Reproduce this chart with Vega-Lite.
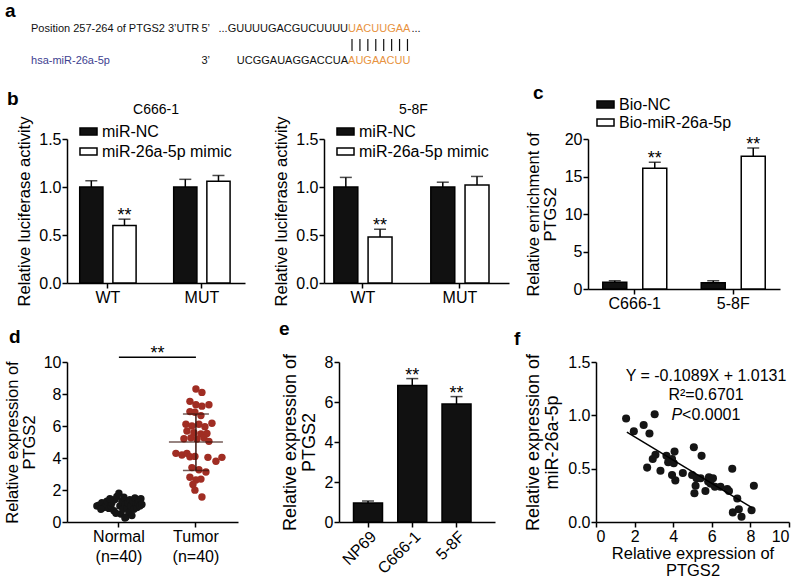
{
  "$schema": "https://vega.github.io/schema/vega-lite/v6.json",
  "background": "white",
  "padding": {"left": 4, "top": 2, "right": 2, "bottom": 0},
  "config": {
    "font": "Liberation Sans",
    "view": {"stroke": null},
    "axis": {"domainColor": "#000", "domainWidth": 1.5, "tickColor": "#000", "tickWidth": 1.5, "tickSize": 5, "labelColor": "#000", "titleColor": "#000", "labelFont": "Liberation Sans", "titleFont": "Liberation Sans", "labelFontSize": 16, "titleFontSize": 16.5, "titleFontWeight": "normal", "grid": false, "labelPadding": 1, "titlePadding": 6, "titleLineHeight": 17, "labelOverlap": false},
    "axisX": {"labelAngle": 0},
    "legend": {"labelFont": "Liberation Sans", "labelFontSize": 16, "labelColor": "#000", "symbolStrokeColor": "#000", "symbolStrokeWidth": 1.5, "symbolType": "M-1,-0.4H1V0.4H-1Z", "symbolSize": 290, "rowPadding": 2, "padding": 0, "labelLimit": 300},
    "title": {"font": "Liberation Sans", "fontSize": 19, "fontWeight": "bold", "anchor": "start", "frame": "group", "color": "#000", "offset": 4}
  },
  "resolve": {"scale": {"fill": "independent", "color": "independent", "x": "independent", "y": "independent", "xOffset": "independent"}, "legend": {"fill": "independent", "color": "independent"}},
  "spacing": 9,
  "vconcat": [
    {
      "width": 366, "height": 46,
      "title": {"text": "a", "dx": -62, "offset": 2},
      "data": {"values": [
        {"row": "target", "col": -40, "part": "target-name", "text": "Position 257-264 of PTGS2 3’UTR"},
        {"row": "target", "col": -18.5, "part": "end", "text": "5’"},
        {"row": "target", "col": 0, "part": "prefix", "text": "...GUUUUGACGUCUUUU"},
        {"row": "target", "col": 0, "part": "seed", "text": "UACUUGAA"},
        {"row": "target", "col": 8, "part": "tail", "text": "..."},
        {"row": "mirna", "col": -40, "part": "mirna-name", "text": "hsa-miR-26a-5p"},
        {"row": "mirna", "col": -18.5, "part": "end", "text": "3’"},
        {"row": "mirna", "col": 0, "part": "prefix", "text": "UCGGAUAGGACCUA"},
        {"row": "mirna", "col": 0, "part": "seed", "text": "AUGAACUU"},
        {"row": "pairing", "col": 0.5, "part": "pair", "text": "|"},
        {"row": "pairing", "col": 1.5, "part": "pair", "text": "|"},
        {"row": "pairing", "col": 2.5, "part": "pair", "text": "|"},
        {"row": "pairing", "col": 3.5, "part": "pair", "text": "|"},
        {"row": "pairing", "col": 4.5, "part": "pair", "text": "|"},
        {"row": "pairing", "col": 5.5, "part": "pair", "text": "|"},
        {"row": "pairing", "col": 6.5, "part": "pair", "text": "|"},
        {"row": "pairing", "col": 7.5, "part": "pair", "text": "|"}
      ]},
      "encoding": {
        "x": {"field": "col", "type": "quantitative", "scale": {"domain": [-35.46, 10.72], "nice": false, "zero": false}, "axis": null},
        "y": {"field": "row", "type": "nominal", "scale": {"type": "point", "domain": ["target", "pairing", "mirna"], "padding": 0.4375, "align": 0}, "axis": null}
      },
      "layer": [
        {"transform": [{"filter": "datum.part == 'target-name' || datum.part == 'end' || datum.part == 'tail'"}], "mark": {"type": "text", "align": "left", "fontSize": 11, "color": "#111111"}, "encoding": {"text": {"field": "text"}}},
        {"transform": [{"filter": "datum.part == 'mirna-name'"}], "mark": {"type": "text", "align": "left", "fontSize": 11, "color": "#3d4190"}, "encoding": {"text": {"field": "text"}}},
        {"transform": [{"filter": "datum.part == 'seed'"}], "mark": {"type": "text", "align": "left", "fontSize": 11, "color": "#e8933f"}, "encoding": {"text": {"field": "text"}}},
        {"transform": [{"filter": "datum.part == 'prefix'"}], "mark": {"type": "text", "align": "right", "fontSize": 11, "color": "#111111"}, "encoding": {"text": {"field": "text"}}},
        {"transform": [{"filter": "datum.part == 'pair'"}], "mark": {"type": "tick", "size": 12, "thickness": 1.2, "color": "#111111", "opacity": 1}}
      ]
    },
    {
      "title": {"text": "b", "dx": -60, "offset": -25},
      "resolve": {"scale": {"fill": "independent", "color": "independent", "x": "independent", "y": "independent", "xOffset": "independent"}, "legend": {"fill": "independent"}},
      "bounds": "flush",
      "spacing": 79,
      "hconcat": [
        {
          "width": 178, "height": 144,
          "title": {"text": "C666-1", "anchor": "middle", "fontSize": 14, "fontWeight": "normal", "offset": -1},
          "data": {"values": [
            {"construct": "WT", "treatment": "miR-NC", "value": 1.0, "upper": 1.065, "sig": ""},
            {"construct": "WT", "treatment": "miR-26a-5p mimic", "value": 0.6, "upper": 0.665, "sig": "**"},
            {"construct": "MUT", "treatment": "miR-NC", "value": 1.0, "upper": 1.08, "sig": ""},
            {"construct": "MUT", "treatment": "miR-26a-5p mimic", "value": 1.06, "upper": 1.12, "sig": ""}
          ]},
          "encoding": {
            "x": {"field": "construct", "type": "nominal", "sort": ["WT", "MUT"], "scale": {"paddingInner": 0.4, "paddingOuter": 0.147, "align": 0.46}, "axis": {"title": null}},
            "xOffset": {"field": "treatment", "type": "nominal", "sort": ["miR-NC", "miR-26a-5p mimic"], "scale": {"paddingInner": 0.3, "paddingOuter": 0}}
          },
          "layer": [
            {"mark": {"type": "bar", "stroke": "#000", "strokeWidth": 1.5}, "encoding": {
              "y": {"field": "value", "type": "quantitative", "title": "Relative luciferase activity", "scale": {"domain": [0, 1.5], "nice": false}, "axis": {"values": [0, 0.5, 1, 1.5], "tickCount": 4, "format": ".1f"}},
              "fill": {"field": "treatment", "type": "nominal", "scale": {"domain": ["miR-NC", "miR-26a-5p mimic"], "range": ["#111111", "#ffffff"]}, "legend": {"title": null, "orient": "none", "legendX": 12, "legendY": -17}}}},
            {"mark": {"type": "rule", "strokeWidth": 1.5, "color": "#000"}, "encoding": {"y": {"field": "value", "type": "quantitative", "title": "Relative luciferase activity"}, "y2": {"field": "upper"}}},
            {"mark": {"type": "tick", "thickness": 1.5, "size": 12, "color": "#000"}, "encoding": {"y": {"field": "upper", "type": "quantitative", "title": "Relative luciferase activity"}}},
            {"transform": [{"filter": "datum.sig != ''"}], "mark": {"type": "text", "fontSize": 18, "baseline": "alphabetic", "dy": 2, "color": "#000"}, "encoding": {"y": {"field": "upper", "type": "quantitative", "title": "Relative luciferase activity"}, "text": {"field": "sig"}}}
          ]
        },
        {
          "width": 185, "height": 144,
          "title": {"text": "5-8F", "anchor": "middle", "fontSize": 14, "fontWeight": "normal", "offset": -1, "dx": -3},
          "data": {"values": [
            {"construct": "WT", "treatment": "miR-NC", "value": 1.0, "upper": 1.1, "sig": ""},
            {"construct": "WT", "treatment": "miR-26a-5p mimic", "value": 0.48, "upper": 0.56, "sig": "**"},
            {"construct": "MUT", "treatment": "miR-NC", "value": 1.0, "upper": 1.05, "sig": ""},
            {"construct": "MUT", "treatment": "miR-26a-5p mimic", "value": 1.02, "upper": 1.11, "sig": ""}
          ]},
          "encoding": {
            "x": {"field": "construct", "type": "nominal", "sort": ["WT", "MUT"], "scale": {"paddingInner": 0.4, "paddingOuter": 0.154, "align": 0.33}, "axis": {"title": null}},
            "xOffset": {"field": "treatment", "type": "nominal", "sort": ["miR-NC", "miR-26a-5p mimic"], "scale": {"paddingInner": 0.3, "paddingOuter": 0}}
          },
          "layer": [
            {"mark": {"type": "bar", "stroke": "#000", "strokeWidth": 1.5}, "encoding": {
              "y": {"field": "value", "type": "quantitative", "title": "Relative luciferase activity", "scale": {"domain": [0, 1.5], "nice": false}, "axis": {"values": [0, 0.5, 1, 1.5], "tickCount": 4, "format": ".1f"}},
              "fill": {"field": "treatment", "type": "nominal", "scale": {"domain": ["miR-NC", "miR-26a-5p mimic"], "range": ["#111111", "#ffffff"]}, "legend": {"title": null, "orient": "none", "legendX": 12, "legendY": -17}}}},
            {"mark": {"type": "rule", "strokeWidth": 1.5, "color": "#000"}, "encoding": {"y": {"field": "value", "type": "quantitative", "title": "Relative luciferase activity"}, "y2": {"field": "upper"}}},
            {"mark": {"type": "tick", "thickness": 1.5, "size": 12, "color": "#000"}, "encoding": {"y": {"field": "upper", "type": "quantitative", "title": "Relative luciferase activity"}}},
            {"transform": [{"filter": "datum.sig != ''"}], "mark": {"type": "text", "fontSize": 18, "baseline": "alphabetic", "dy": 2, "color": "#000"}, "encoding": {"y": {"field": "upper", "type": "quantitative", "title": "Relative luciferase activity"}, "text": {"field": "sig"}}}
          ]
        },
        {
          "width": 192, "height": 150,
          "title": {"text": "c", "dx": -55, "offset": -8},
          "data": {"values": [
            {"cell": "C666-1", "probe": "Bio-NC", "value": 0.9, "upper": 1.1, "sig": ""},
            {"cell": "C666-1", "probe": "Bio-miR-26a-5p", "value": 16.1, "upper": 16.9, "sig": "**"},
            {"cell": "5-8F", "probe": "Bio-NC", "value": 0.85, "upper": 1.1, "sig": ""},
            {"cell": "5-8F", "probe": "Bio-miR-26a-5p", "value": 17.7, "upper": 18.8, "sig": "**"}
          ]},
          "encoding": {
            "x": {"field": "cell", "type": "nominal", "sort": ["C666-1", "5-8F"], "scale": {"paddingInner": 0.35, "paddingOuter": 0.15}, "axis": {"title": null}},
            "xOffset": {"field": "probe", "type": "nominal", "sort": ["Bio-NC", "Bio-miR-26a-5p"], "scale": {"paddingInner": 0.4, "paddingOuter": 0}}
          },
          "layer": [
            {"mark": {"type": "bar", "stroke": "#000", "strokeWidth": 1.5}, "encoding": {
              "y": {"field": "value", "type": "quantitative", "title": ["Relative enrichment of", "PTGS2"], "scale": {"domain": [0, 20], "nice": false}, "axis": {"values": [0, 5, 10, 15, 20], "tickCount": 5, "format": "d"}},
              "fill": {"field": "probe", "type": "nominal", "scale": {"domain": ["Bio-NC", "Bio-miR-26a-5p"], "range": ["#111111", "#ffffff"]}, "legend": {"title": null, "orient": "none", "legendX": 8, "legendY": -44, "rowPadding": 0}}}},
            {"mark": {"type": "rule", "strokeWidth": 1.5, "color": "#000"}, "encoding": {"y": {"field": "value", "type": "quantitative", "title": ["Relative enrichment of", "PTGS2"]}, "y2": {"field": "upper"}}},
            {"mark": {"type": "tick", "thickness": 1.5, "size": 12, "color": "#000"}, "encoding": {"y": {"field": "upper", "type": "quantitative", "title": ["Relative enrichment of", "PTGS2"]}}},
            {"transform": [{"filter": "datum.sig != ''"}], "mark": {"type": "text", "fontSize": 18, "baseline": "alphabetic", "dy": 2, "color": "#000"}, "encoding": {"y": {"field": "upper", "type": "quantitative", "title": ["Relative enrichment of", "PTGS2"]}, "text": {"field": "sig"}}}
          ]
        }
      ]
    },
    {
      "resolve": {"scale": {"fill": "independent", "color": "independent", "x": "independent", "y": "independent", "xOffset": "independent"}, "legend": {"color": "independent"}},
      "bounds": "flush",
      "spacing": 101,
      "hconcat": [
        {
          "width": 171, "height": 160,
          "title": {"text": "d", "dx": -58, "offset": -2},
          "layer": [
            {
              "data": {"values": [
                {"group": "Normal", "jitter": -22, "value": 1.0}, {"group": "Normal", "jitter": -20, "value": 1.05}, {"group": "Normal", "jitter": -17, "value": 1.2}, {"group": "Normal", "jitter": -15, "value": 0.9},
                {"group": "Normal", "jitter": -13, "value": 1.1}, {"group": "Normal", "jitter": -12, "value": 1.3}, {"group": "Normal", "jitter": -10, "value": 0.85}, {"group": "Normal", "jitter": -8, "value": 1.0},
                {"group": "Normal", "jitter": -7, "value": 1.2}, {"group": "Normal", "jitter": -5, "value": 0.7}, {"group": "Normal", "jitter": -4, "value": 1.4}, {"group": "Normal", "jitter": -2, "value": 1.6},
                {"group": "Normal", "jitter": 0, "value": 1.8}, {"group": "Normal", "jitter": 1, "value": 1.0}, {"group": "Normal", "jitter": 2, "value": 0.5}, {"group": "Normal", "jitter": 3, "value": 1.3},
                {"group": "Normal", "jitter": 4, "value": 0.8}, {"group": "Normal", "jitter": 5, "value": 1.55}, {"group": "Normal", "jitter": 6, "value": 1.1}, {"group": "Normal", "jitter": 7, "value": 0.3},
                {"group": "Normal", "jitter": 8, "value": 0.9}, {"group": "Normal", "jitter": 9, "value": 1.2}, {"group": "Normal", "jitter": 10, "value": 0.6}, {"group": "Normal", "jitter": 11, "value": 1.4},
                {"group": "Normal", "jitter": 12, "value": 1.0}, {"group": "Normal", "jitter": 13, "value": 0.4}, {"group": "Normal", "jitter": 14, "value": 1.3}, {"group": "Normal", "jitter": 15, "value": 0.8},
                {"group": "Normal", "jitter": 16, "value": 1.5}, {"group": "Normal", "jitter": 17, "value": 1.1}, {"group": "Normal", "jitter": 18, "value": 0.9}, {"group": "Normal", "jitter": 19, "value": 1.2},
                {"group": "Normal", "jitter": 20, "value": 1.35}, {"group": "Normal", "jitter": 21, "value": 1.0}, {"group": "Normal", "jitter": 22, "value": 1.45}, {"group": "Normal", "jitter": -18, "value": 0.8},
                {"group": "Normal", "jitter": -3, "value": 0.55}, {"group": "Normal", "jitter": 6, "value": 0.25}, {"group": "Normal", "jitter": -9, "value": 1.45}, {"group": "Normal", "jitter": 23, "value": 1.1},
                {"group": "Tumor", "jitter": 0, "value": 8.31}, {"group": "Tumor", "jitter": 6, "value": 8.1}, {"group": "Tumor", "jitter": -6, "value": 7.54}, {"group": "Tumor", "jitter": 0, "value": 7.33},
                {"group": "Tumor", "jitter": 6, "value": 7.24}, {"group": "Tumor", "jitter": 13, "value": 7.33}, {"group": "Tumor", "jitter": -6, "value": 6.9}, {"group": "Tumor", "jitter": -1, "value": 6.86},
                {"group": "Tumor", "jitter": 5, "value": 6.65}, {"group": "Tumor", "jitter": -10, "value": 6.11}, {"group": "Tumor", "jitter": -4, "value": 6.0}, {"group": "Tumor", "jitter": 3, "value": 6.11},
                {"group": "Tumor", "jitter": 9, "value": 5.96}, {"group": "Tumor", "jitter": 16, "value": 6.17}, {"group": "Tumor", "jitter": -9, "value": 5.68}, {"group": "Tumor", "jitter": -2, "value": 5.58},
                {"group": "Tumor", "jitter": 5, "value": 5.51}, {"group": "Tumor", "jitter": 11, "value": 5.53}, {"group": "Tumor", "jitter": -12, "value": 5.2}, {"group": "Tumor", "jitter": -5, "value": 5.26},
                {"group": "Tumor", "jitter": 1, "value": 5.19}, {"group": "Tumor", "jitter": 8, "value": 5.26}, {"group": "Tumor", "jitter": 13, "value": 5.04}, {"group": "Tumor", "jitter": -20, "value": 4.29},
                {"group": "Tumor", "jitter": -14, "value": 4.19}, {"group": "Tumor", "jitter": -9, "value": 4.29}, {"group": "Tumor", "jitter": -6, "value": 4.08}, {"group": "Tumor", "jitter": -1, "value": 4.1},
                {"group": "Tumor", "jitter": 12, "value": 4.04}, {"group": "Tumor", "jitter": 20, "value": 3.8}, {"group": "Tumor", "jitter": 26, "value": 4.04}, {"group": "Tumor", "jitter": -4, "value": 3.4},
                {"group": "Tumor", "jitter": 3, "value": 3.27}, {"group": "Tumor", "jitter": 10, "value": 3.12}, {"group": "Tumor", "jitter": -6, "value": 2.8}, {"group": "Tumor", "jitter": 0, "value": 2.62},
                {"group": "Tumor", "jitter": 5, "value": 2.68}, {"group": "Tumor", "jitter": -3, "value": 2.35}, {"group": "Tumor", "jitter": -1, "value": 1.99}, {"group": "Tumor", "jitter": 6, "value": 1.56}
              ]},
              "mark": {"type": "circle", "size": 55, "opacity": 1},
              "encoding": {
                "x": {"field": "group", "type": "nominal", "sort": ["Normal", "Tumor"], "scale": {"type": "band", "domain": ["Normal", "Tumor"], "paddingInner": 0, "paddingOuter": 0.11, "align": 0.79}, "axis": {"title": null, "labelExpr": "[datum.label, '(n=40)']", "labelLineHeight": 20}},
                "xOffset": {"field": "jitter", "type": "quantitative", "scale": {"domain": [-38.5, 38.5]}},
                "y": {"field": "value", "type": "quantitative", "title": ["Relative expression of", "PTGS2"], "scale": {"domain": [0, 10], "nice": false}, "axis": {"values": [0, 2, 4, 6, 8, 10], "tickCount": 6, "format": "d"}},
                "color": {"field": "group", "type": "nominal", "scale": {"domain": ["Normal", "Tumor"], "range": ["#151515", "#a02d23"]}, "legend": null}
              }
            },
            {
              "data": {"values": [{"group": "Tumor", "mean": 5.0, "lo": 3.22, "hi": 6.75}]},
              "layer": [
                {"mark": {"type": "rule", "color": "#3a1510", "strokeWidth": 1.5}, "encoding": {"x": {"field": "group", "type": "nominal"}, "y": {"field": "lo", "type": "quantitative", "title": ["Relative expression of", "PTGS2"]}, "y2": {"field": "hi"}}},
                {"mark": {"type": "tick", "color": "#3a1510", "thickness": 1.5, "size": 54}, "encoding": {"x": {"field": "group", "type": "nominal"}, "y": {"field": "mean", "type": "quantitative", "title": ["Relative expression of", "PTGS2"]}}},
                {"mark": {"type": "tick", "color": "#3a1510", "thickness": 1.5, "size": 26}, "encoding": {"x": {"field": "group", "type": "nominal"}, "y": {"field": "lo", "type": "quantitative", "title": ["Relative expression of", "PTGS2"]}}},
                {"mark": {"type": "tick", "color": "#3a1510", "thickness": 1.5, "size": 26}, "encoding": {"x": {"field": "group", "type": "nominal"}, "y": {"field": "hi", "type": "quantitative", "title": ["Relative expression of", "PTGS2"]}}}
              ]
            },
            {
              "data": {"values": [{"from": "Normal", "to": "Tumor", "level": 10.3, "sig": "**"}]},
              "layer": [
                {"mark": {"type": "rule", "color": "#000", "strokeWidth": 1.5}, "encoding": {"x": {"field": "from", "type": "nominal", "bandPosition": 0.5}, "x2": {"field": "to", "bandPosition": 0.5}, "y": {"field": "level", "type": "quantitative", "title": ["Relative expression of", "PTGS2"]}}},
                {"mark": {"type": "text", "fontSize": 18, "baseline": "alphabetic", "dy": 2, "color": "#000"}, "encoding": {"x": {"field": "from", "type": "nominal", "bandPosition": 1}, "y": {"field": "level", "type": "quantitative", "title": ["Relative expression of", "PTGS2"]}, "text": {"field": "sig"}}}
              ]
            }
          ]
        },
        {
          "width": 156, "height": 160,
          "title": {"text": "e", "dx": -60, "offset": 14},
          "data": {"values": [
            {"cell": "NP69", "value": 0.95, "upper": 1.05, "sig": ""},
            {"cell": "C666-1", "value": 6.83, "upper": 7.17, "sig": "**"},
            {"cell": "5-8F", "value": 5.9, "upper": 6.27, "sig": "**"}
          ]},
          "encoding": {
            "x": {"field": "cell", "type": "nominal", "sort": ["NP69", "C666-1", "5-8F"], "scale": {"paddingInner": 0.345, "paddingOuter": 0.435, "align": 0.377}, "axis": {"title": null, "labelAngle": -45, "labelAlign": "right", "labelBaseline": "top"}}
          },
          "layer": [
            {"mark": {"type": "bar", "fill": "#111111", "stroke": "#000", "strokeWidth": 1.5}, "encoding": {"y": {"field": "value", "type": "quantitative", "title": ["Relative expression of", "PTGS2"], "scale": {"domain": [0, 8], "nice": false}, "axis": {"values": [0, 2, 4, 6, 8], "tickCount": 5, "format": "d", "titleFontSize": 18, "titleLineHeight": 19}}}},
            {"mark": {"type": "rule", "strokeWidth": 1.5, "color": "#000"}, "encoding": {"y": {"field": "value", "type": "quantitative", "title": ["Relative expression of", "PTGS2"]}, "y2": {"field": "upper"}}},
            {"mark": {"type": "tick", "thickness": 1.5, "size": 12, "color": "#000"}, "encoding": {"y": {"field": "upper", "type": "quantitative", "title": ["Relative expression of", "PTGS2"]}}},
            {"transform": [{"filter": "datum.sig != ''"}], "mark": {"type": "text", "fontSize": 18, "baseline": "alphabetic", "dy": 2, "color": "#000"}, "encoding": {"y": {"field": "upper", "type": "quantitative", "title": ["Relative expression of", "PTGS2"]}, "text": {"field": "sig"}}}
          ]
        },
        {
          "width": 193, "height": 160,
          "title": {"text": "f", "dx": -82, "offset": 4},
          "layer": [
            {
              "data": {"values": [
                {"PTGS2": 1.56, "miR": 0.97}, {"PTGS2": 1.96, "miR": 0.85}, {"PTGS2": 2.47, "miR": 0.91}, {"PTGS2": 2.77, "miR": 0.83}, {"PTGS2": 3.04, "miR": 1.01},
                {"PTGS2": 2.65, "miR": 0.51}, {"PTGS2": 2.94, "miR": 0.59}, {"PTGS2": 3.08, "miR": 0.63}, {"PTGS2": 3.34, "miR": 0.48}, {"PTGS2": 3.65, "miR": 0.62},
                {"PTGS2": 3.74, "miR": 0.56}, {"PTGS2": 3.94, "miR": 0.59}, {"PTGS2": 4.07, "miR": 0.66}, {"PTGS2": 4.03, "miR": 0.55}, {"PTGS2": 3.94, "miR": 0.44},
                {"PTGS2": 4.11, "miR": 0.39}, {"PTGS2": 4.5, "miR": 0.46}, {"PTGS2": 4.98, "miR": 0.44}, {"PTGS2": 5.07, "miR": 0.7}, {"PTGS2": 5.16, "miR": 0.34},
                {"PTGS2": 5.1, "miR": 0.27}, {"PTGS2": 5.21, "miR": 0.41}, {"PTGS2": 5.47, "miR": 0.62}, {"PTGS2": 5.42, "miR": 0.41}, {"PTGS2": 5.67, "miR": 0.29},
                {"PTGS2": 5.81, "miR": 0.38}, {"PTGS2": 5.85, "miR": 0.42}, {"PTGS2": 5.93, "miR": 0.36}, {"PTGS2": 6.06, "miR": 0.41}, {"PTGS2": 6.16, "miR": 0.33},
                {"PTGS2": 6.45, "miR": 0.33}, {"PTGS2": 6.8, "miR": 0.31}, {"PTGS2": 6.89, "miR": 0.29}, {"PTGS2": 7.06, "miR": 0.5}, {"PTGS2": 7.32, "miR": 0.22},
                {"PTGS2": 7.09, "miR": 0.09}, {"PTGS2": 7.4, "miR": 0.12}, {"PTGS2": 7.54, "miR": 0.05}, {"PTGS2": 8.06, "miR": 0.11}, {"PTGS2": 8.18, "miR": 0.34}
              ]},
              "layer": [
                {"mark": {"type": "circle", "size": 65, "color": "#151515", "opacity": 1}, "encoding": {
                  "x": {"field": "PTGS2", "type": "quantitative", "title": ["Relative expression of", "PTGS2"], "scale": {"domain": [0, 10], "nice": false}, "axis": {"values": [0, 2, 4, 6, 8, 10], "tickCount": 6, "format": "d", "titlePadding": 1, "titleLineHeight": 17}},
                  "y": {"field": "miR", "type": "quantitative", "title": ["Relative expression of", "miR-26a-5p"], "scale": {"domain": [0, 1.5], "nice": false}, "axis": {"values": [0, 0.5, 1, 1.5], "tickCount": 4, "format": ".1f", "titleFontSize": 18, "titleLineHeight": 19}}}},
                {"transform": [{"regression": "miR", "on": "PTGS2", "extent": [1.6, 8.1]}], "mark": {"type": "line", "color": "#000", "strokeWidth": 1.5}, "encoding": {
                  "x": {"field": "PTGS2", "type": "quantitative", "title": ["Relative expression of", "PTGS2"]},
                  "y": {"field": "miR", "type": "quantitative", "title": ["Relative expression of", "miR-26a-5p"]}}}
              ]
            },
            {"data": {"values": [{"label": "Y = -0.1089X + 1.0131"}]}, "mark": {"type": "text", "fontSize": 16, "align": "center", "baseline": "middle", "color": "#000"}, "encoding": {"x": {"datum": 5.7}, "y": {"datum": 1.37}, "text": {"field": "label"}}},
            {"data": {"values": [{"label": "R²=0.6701"}]}, "mark": {"type": "text", "fontSize": 16, "align": "center", "baseline": "middle", "color": "#000"}, "encoding": {"x": {"datum": 5.7}, "y": {"datum": 1.19}, "text": {"field": "label"}}},
            {"data": {"values": [{"label": "P"}]}, "mark": {"type": "text", "fontSize": 16, "fontStyle": "italic", "align": "right", "baseline": "middle", "color": "#000"}, "encoding": {"x": {"datum": 4.46}, "y": {"datum": 1.0}, "text": {"field": "label"}}},
            {"data": {"values": [{"label": "<0.0001"}]}, "mark": {"type": "text", "fontSize": 16, "align": "left", "baseline": "middle", "color": "#000"}, "encoding": {"x": {"datum": 4.46}, "y": {"datum": 1.0}, "text": {"field": "label"}}}
          ]
        }
      ]
    }
  ]
}
